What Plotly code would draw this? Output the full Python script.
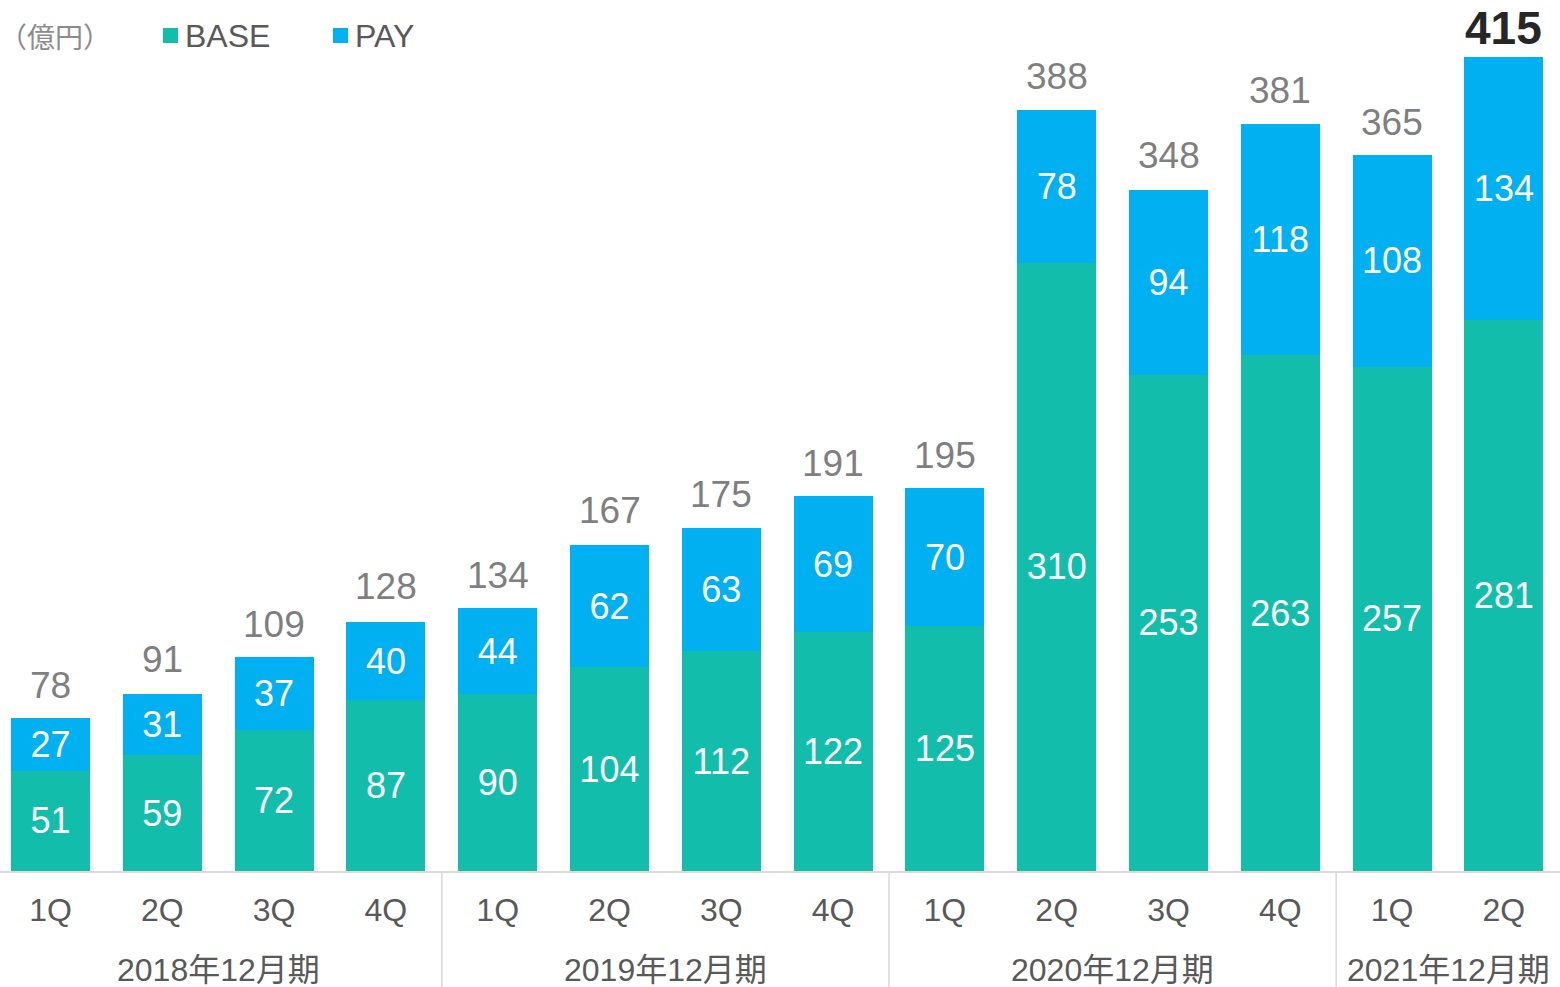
import plotly.graph_objects as go

quarters = ["1Q", "2Q", "3Q", "4Q", "1Q", "2Q", "3Q", "4Q", "1Q", "2Q", "3Q", "4Q", "1Q", "2Q"]
base_vals = [51, 59, 72, 87, 90, 104, 112, 122, 125, 310, 253, 263, 257, 281]
pay_vals = [27, 31, 37, 40, 44, 62, 63, 69, 70, 78, 94, 118, 108, 134]
totals = [78, 91, 109, 128, 134, 167, 175, 191, 195, 388, 348, 381, 365, 415]
fiscal_years = ["2018年12月期", "2019年12月期", "2020年12月期", "2021年12月期"]
fy_centers = [1.5, 5.5, 9.5, 12.5]
separators = [3.5, 7.5, 11.5]

FONT = "Arial, 'Liberation Sans', 'Noto Sans CJK JP', sans-serif"
TEAL = "#13BDAC"
BLUE = "#00B0F0"

# body margin is removed below, so figure pixels equal page pixels
W, H_FIG = 1560, 987
AXIS_Y = 871.5
UNIT = 111.8
X0 = 50.5
PLOT_TOP = 0
PLOT_H = AXIS_Y - PLOT_TOP

x = list(range(len(quarters)))

fig = go.Figure()
fig.add_trace(go.Bar(
    x=x, y=base_vals, name="BASE", marker=dict(color=TEAL, line=dict(width=0)),
    text=[str(v) for v in base_vals], textposition="inside", insidetextanchor="middle",
    constraintext="none", textangle=0,
    textfont=dict(family=FONT, size=36, color="white"), hoverinfo="skip",
))
fig.add_trace(go.Bar(
    x=x, y=pay_vals, name="PAY", marker=dict(color=BLUE, line=dict(width=0)),
    text=[str(v) for v in pay_vals], textposition="inside", insidetextanchor="middle",
    constraintext="none", textangle=0,
    textfont=dict(family=FONT, size=36, color="white"), hoverinfo="skip",
))

annotations = []
for i, t in enumerate(totals):
    last = i == len(totals) - 1
    annotations.append(dict(
        x=i, y=t, xref="x", yref="y", text=f"<b>{t}</b>" if last else str(t),
        showarrow=False, yanchor="middle", yshift=29 if last else 33,
        font=dict(family=FONT, size=46 if last else 37, color="#262626" if last else "#7F7F7F"),
    ))
for fy, c in zip(fiscal_years, fy_centers):
    annotations.append(dict(
        x=c, y=0, xref="x", yref="paper", text=fy, showarrow=False,
        yanchor="middle", yshift=-98.5, font=dict(family=FONT, size=32, color="#595959"),
    ))


def px_x(pix):
    return pix / W


def px_y(pix):
    return (AXIS_Y - pix) / PLOT_H


annotations.append(dict(x=px_x(0), y=px_y(36), xref="paper", yref="paper", text="（億円）",
                        showarrow=False, xanchor="left", yanchor="middle", xshift=-3,
                        font=dict(family="'Noto Sans CJK JP', sans-serif", size=28, color="#8C8C8C")))
annotations.append(dict(x=px_x(183), y=px_y(36), xref="paper", yref="paper", text="BASE",
                        showarrow=False, xanchor="left", yanchor="middle",
                        font=dict(family=FONT, size=32, color="#595959")))
annotations.append(dict(x=px_x(353), y=px_y(36), xref="paper", yref="paper", text="PAY",
                        showarrow=False, xanchor="left", yanchor="middle",
                        font=dict(family=FONT, size=32, color="#595959")))

shapes = []
shapes.append(dict(type="rect", xref="paper", yref="paper", x0=px_x(163), x1=px_x(178),
                   y0=px_y(43), y1=px_y(28), fillcolor=TEAL, line=dict(width=0)))
shapes.append(dict(type="rect", xref="paper", yref="paper", x0=px_x(333), x1=px_x(348),
                   y0=px_y(43), y1=px_y(28), fillcolor=BLUE, line=dict(width=0)))
for s in separators:
    shapes.append(dict(type="line", xref="x", yref="paper", x0=s, x1=s, y0=0, y1=-0.14,
                       line=dict(color="#D9D9D9", width=1.5)))

x_start = -X0 / UNIT
fig.update_layout(
    width=W, height=H_FIG,
    margin=dict(l=0, r=0, t=PLOT_TOP, b=H_FIG - AXIS_Y),
    barmode="stack", bargap=0.293,
    plot_bgcolor="white", paper_bgcolor="white",
    showlegend=False,
    annotations=annotations, shapes=shapes,
    xaxis=dict(
        range=[x_start, x_start + W / UNIT], tickmode="array", tickvals=x, ticktext=quarters,
        showgrid=False, zeroline=False, showline=True, linecolor="#D9D9D9", linewidth=2,
        ticks="", ticklabelstandoff=10,
        tickfont=dict(family=FONT, size=32, color="#595959"),
    ),
    yaxis=dict(range=[0, PLOT_H / 1.9627], visible=False, showgrid=False, zeroline=False),
    font=dict(family=FONT),
)

fig.write_html("out.html",
               config={"displayModeBar": False},
               post_script="document.body.style.margin='0';document.body.style.overflow='hidden';")
